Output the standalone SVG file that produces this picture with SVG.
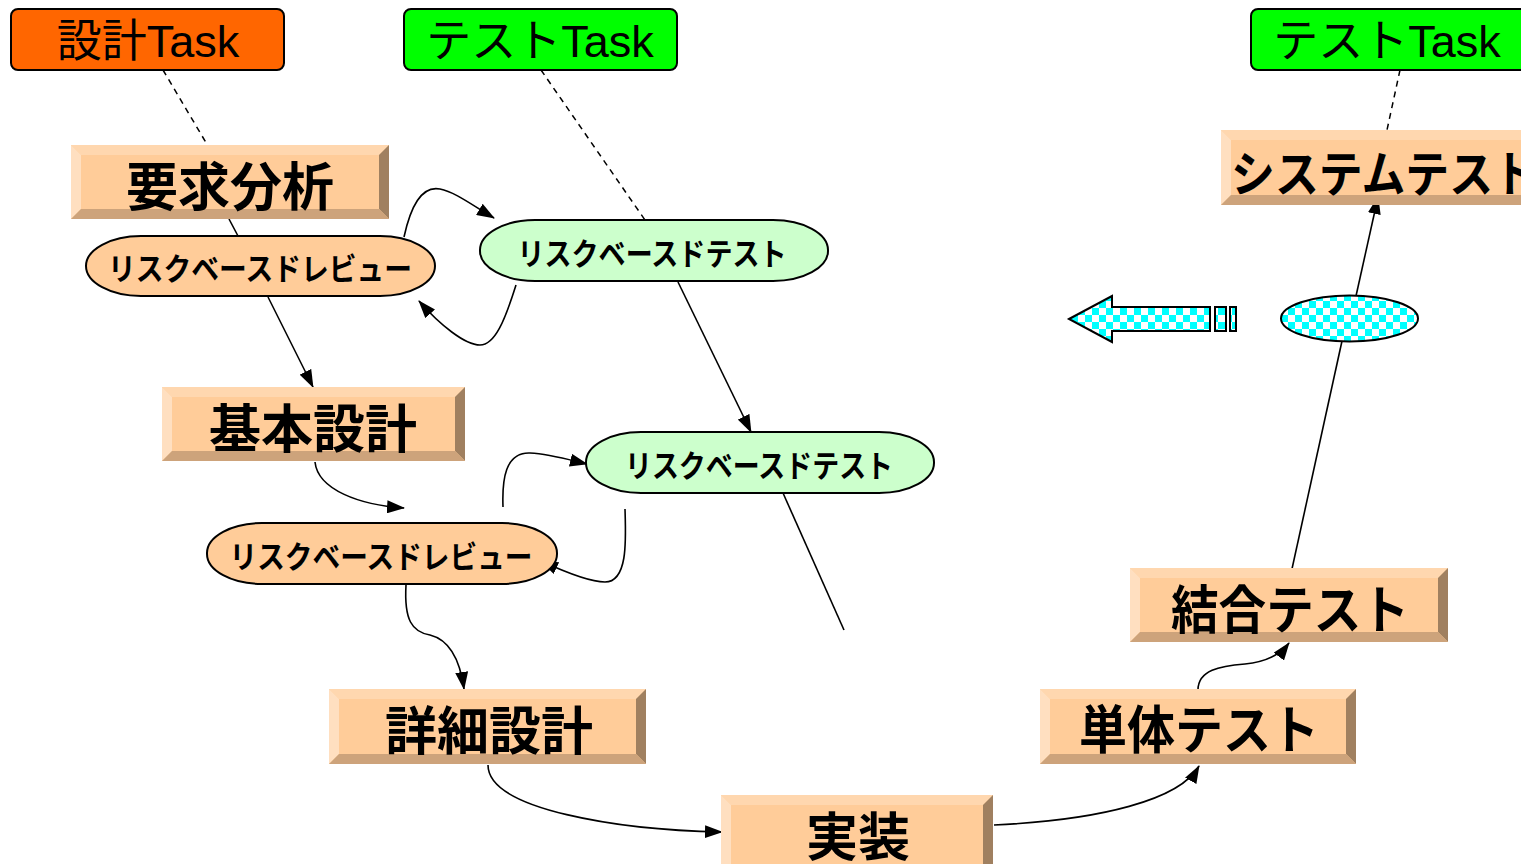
<svg xmlns="http://www.w3.org/2000/svg" width="1521" height="864" viewBox="0 0 1521 864">
<style>
.task{stroke:#000;stroke-width:2}
.tt{font-family:"Liberation Sans","Noto Sans CJK JP",sans-serif;font-size:45px;fill:#000;text-anchor:middle}
.face{fill:#FFCC99}
.bt{fill:#FFD7AF}
.bl{fill:#FFDFC0}
.br{fill:#A08060}
.bb{fill:#CDA37B}
.bx{font-family:"Noto Sans CJK JP","Noto Sans",sans-serif;font-weight:700;font-size:52px;fill:#000;text-anchor:middle}
.pill{stroke:#000;stroke-width:2}
.pt{font-family:"Noto Sans CJK JP","Noto Sans",sans-serif;font-weight:700;font-size:31px;fill:#000;text-anchor:middle}
.c{fill:none;stroke:#000;stroke-width:1.6}
.d{fill:none;stroke:#000;stroke-width:1.5;stroke-dasharray:6 5}
</style>
<defs>
<marker id="ah" markerWidth="18" markerHeight="13" refX="17" refY="6.5" orient="auto" markerUnits="userSpaceOnUse">
<path d="M0,0 L18,6.5 L0,13 Z" fill="#000"/>
</marker>
<pattern id="chk" width="14" height="14" patternUnits="userSpaceOnUse">
<rect width="14" height="14" fill="#fff"/>
<rect width="7" height="7" fill="#00FFFF"/>
<rect x="7" y="7" width="7" height="7" fill="#00FFFF"/>
</pattern>
</defs>
<rect width="1521" height="864" fill="#fff"/>

<g id="connectors">
<path class="d" d="M163,70 L208,146"/>
<path class="d" d="M541,70 L645,220"/>
<path class="d" d="M1400,70 L1387,130"/>
<path class="c" d="M229,219 L238,236"/>
<path class="c" d="M268,297 L313,387" marker-end="url(#ah)"/>
<path class="c" d="M404,237 C412,200 425,186 440,189 C455,192 472,205 494,218" marker-end="url(#ah)"/>
<path class="c" d="M516,285 C505,320 495,345 480,345 C465,345 440,325 419,301" marker-end="url(#ah)"/>
<path class="c" d="M678,282 L751,432" marker-end="url(#ah)"/>
<path class="c" d="M783,493 L844,630"/>
<path class="c" d="M315,462 C318,490 360,505 404,508" marker-end="url(#ah)"/>
<path class="c" d="M503,507 C502,480 505,452 530,453 C550,454 570,460 587,464" marker-end="url(#ah)"/>
<path class="c" d="M625,509 C626,540 628,582 605,582 C590,582 565,572 541,561" marker-end="url(#ah)"/>
<path class="c" d="M406,585 C404,620 412,632 430,635 C450,640 460,660 464,689" marker-end="url(#ah)"/>
<path class="c" d="M488,765 C488,810 620,830 722,832" marker-end="url(#ah)"/>
<path class="c" d="M994,825 C1100,820 1180,800 1199,766" marker-end="url(#ah)"/>
<path class="c" d="M1198,690 C1198,670 1220,666 1245,664 C1265,662 1280,655 1289,643" marker-end="url(#ah)"/>
<path class="c" d="M1290,578 L1342,341"/>
<path class="c" d="M1356,296 L1378,197" marker-end="url(#ah)"/>
</g>

<g id="task-design">
<rect class="task" x="11" y="9" width="273" height="61" rx="7" fill="#FF6600"/>
<text class="tt" x="148" y="57">設計Task</text>
</g>
<g id="task-test1">
<rect class="task" x="404" y="9" width="273" height="61" rx="7" fill="#00FF00"/>
<text class="tt" x="540" y="57">テストTask</text>
</g>
<g id="task-test2">
<rect class="task" x="1251" y="9" width="290" height="61" rx="7" fill="#00FF00"/>
<text class="tt" x="1387" y="57">テストTask</text>
</g>

<g id="youkyu">
<rect class="face" x="71" y="145" width="318" height="74"/>
<polygon class="bt" points="71,145 389,145 379,155 81,155"/>
<polygon class="bl" points="71,145 81,155 81,209 71,219"/>
<polygon class="br" points="389,145 389,219 379,209 379,155"/>
<polygon class="bb" points="71,219 389,219 379,209 81,209"/>
<text class="bx" x="230" y="206">要求分析</text>
</g>
<g id="kihon">
<rect class="face" x="162" y="387" width="303" height="74"/>
<polygon class="bt" points="162,387 465,387 455,397 172,397"/>
<polygon class="bl" points="162,387 172,397 172,451 162,461"/>
<polygon class="br" points="465,387 465,461 455,451 455,397"/>
<polygon class="bb" points="162,461 465,461 455,451 172,451"/>
<text class="bx" x="313" y="448">基本設計</text>
</g>
<g id="shousai">
<rect class="face" x="329" y="689" width="317" height="75"/>
<polygon class="bt" points="329,689 646,689 636,699 339,699"/>
<polygon class="bl" points="329,689 339,699 339,754 329,764"/>
<polygon class="br" points="646,689 646,764 636,754 636,699"/>
<polygon class="bb" points="329,764 646,764 636,754 339,754"/>
<text class="bx" x="489" y="750">詳細設計</text>
</g>
<g id="jissou">
<rect class="face" x="721" y="795" width="272" height="80"/>
<polygon class="bt" points="721,795 993,795 983,805 731,805"/>
<polygon class="bl" points="721,795 731,805 731,875 721,875"/>
<polygon class="br" points="993,795 993,875 983,875 983,805"/>
<text class="bx" x="858" y="856">実装</text>
</g>
<g id="tantai">
<rect class="face" x="1040" y="689" width="316" height="75"/>
<polygon class="bt" points="1040,689 1356,689 1346,699 1050,699"/>
<polygon class="bl" points="1040,689 1050,699 1050,754 1040,764"/>
<polygon class="br" points="1356,689 1356,764 1346,754 1346,699"/>
<polygon class="bb" points="1040,764 1356,764 1346,754 1050,754"/>
<text class="bx" x="1199" y="749" textLength="240" lengthAdjust="spacingAndGlyphs">単体テスト</text>
</g>
<g id="ketsugou">
<rect class="face" x="1130" y="568" width="318" height="74"/>
<polygon class="bt" points="1130,568 1448,568 1438,578 1140,578"/>
<polygon class="bl" points="1130,568 1140,578 1140,632 1130,642"/>
<polygon class="br" points="1448,568 1448,642 1438,632 1438,578"/>
<polygon class="bb" points="1130,642 1448,642 1438,632 1140,632"/>
<text class="bx" x="1290" y="629" textLength="238" lengthAdjust="spacingAndGlyphs">結合テスト</text>
</g>
<g id="system">
<rect class="face" x="1221" y="130" width="320" height="75"/>
<polygon class="bt" points="1221,130 1541,130 1531,140 1231,140"/>
<polygon class="bl" points="1221,130 1231,140 1231,195 1221,205"/>
<polygon class="bb" points="1221,205 1541,205 1531,195 1231,195"/>
<text class="bx" x="1231" y="192" style="text-anchor:start;font-size:49px" textLength="306" lengthAdjust="spacingAndGlyphs">システムテスト</text>
</g>

<g id="review1">
<rect class="pill" x="86" y="236" width="349" height="60" rx="55" ry="30" fill="#FFCC99"/>
<text class="pt" x="260" y="280" textLength="304" lengthAdjust="spacingAndGlyphs">リスクベースドレビュー</text>
</g>
<g id="test1">
<rect class="pill" x="480" y="220" width="348" height="61" rx="55" ry="30" fill="#CCFFCC"/>
<text class="pt" x="652" y="265" textLength="269" lengthAdjust="spacingAndGlyphs">リスクベースドテスト</text>
</g>
<g id="test2">
<rect class="pill" x="586" y="432" width="348" height="61" rx="55" ry="30" fill="#CCFFCC"/>
<text class="pt" x="759" y="477" textLength="268" lengthAdjust="spacingAndGlyphs">リスクベースドテスト</text>
</g>
<g id="review2">
<rect class="pill" x="207" y="523" width="350" height="61" rx="55" ry="30" fill="#FFCC99"/>
<text class="pt" x="381" y="568" textLength="303" lengthAdjust="spacingAndGlyphs">リスクベースドレビュー</text>
</g>

<g id="checker-ellipse">
<ellipse cx="1349.5" cy="318.5" rx="68.5" ry="23" fill="url(#chk)" stroke="#000" stroke-width="2"/>
</g>
<g id="checker-arrow">
<polygon points="1069,319 1112,296 1112,307 1210,307 1210,331 1112,331 1112,342" fill="url(#chk)" stroke="#000" stroke-width="2" stroke-linejoin="miter"/>
<rect x="1215" y="307" width="11" height="24" fill="url(#chk)" stroke="#000" stroke-width="2"/>
<rect x="1230" y="307" width="6" height="24" fill="url(#chk)" stroke="#000" stroke-width="2"/>
</g>
</svg>
